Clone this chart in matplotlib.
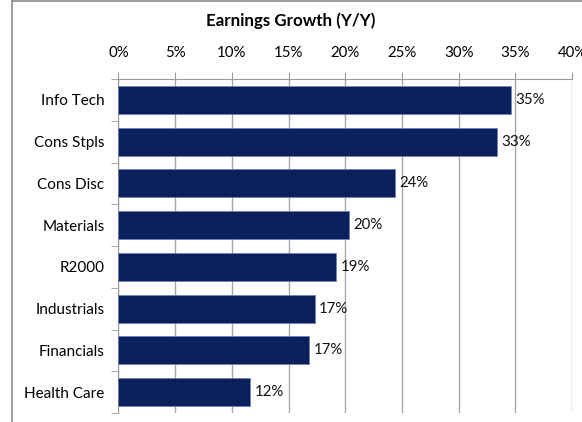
import numpy as np
import matplotlib.pyplot as plt
from matplotlib.lines import Line2D
from matplotlib.ticker import FixedLocator

# Sectors, top to bottom as shown
sectors = ["Info Tech", "Cons Stpls", "Cons Disc", "Materials",
           "R2000", "Industrials", "Financials", "Health Care"]
growth = [34.6, 33.4, 24.4, 20.3, 19.2, 17.3, 16.8, 11.6]  # Y/Y earnings growth, %
xticks = [0, 5, 10, 15, 20, 25, 30, 35, 40]

plt.rcParams['font.family'] = ['Lato', 'DejaVu Sans']

fig = plt.figure(figsize=(5.82, 4.22), dpi=100)
ax = fig.add_axes([0.2035, 0.0213, 0.7793, 0.7915])

y = np.arange(len(sectors))
ax.barh(y, growth, height=0.67, color='#0a1f5c', edgecolor='#6f83b5', linewidth=0.6, zorder=3)

for yi, v in zip(y, growth):
    ax.text(v + 0.4, yi, f"{v:.0f}%", va='center', ha='left', fontsize=10.8, color='#111111', zorder=4)

ax.set_ylim(len(sectors) - 0.5, -0.5)
ax.set_xlim(0, 40)
ax.set_yticks(y)
ax.set_yticklabels(sectors, fontsize=11)
ax.yaxis.set_minor_locator(FixedLocator(np.arange(-0.5, len(sectors), 1)))
ax.tick_params(axis='y', which='major', length=0, pad=10)
ax.tick_params(axis='y', which='minor', length=5, color='#9a9a9a', direction='out')

ax.xaxis.tick_top()
ax.set_xticks(xticks)
ax.set_xticklabels([f"{t}%" for t in xticks], fontsize=10.8)
ax.tick_params(axis='x', length=5, color='#9a9a9a', pad=9)
ax.grid(axis='x', color='#a6a6a6', linewidth=1, zorder=0)

for s in ['right', 'bottom']:
    ax.spines[s].set_visible(False)
for s in ['left', 'top']:
    ax.spines[s].set_color('#9a9a9a')

fig.text(0.5, 0.952, "Earnings Growth (Y/Y)", ha='center', va='center', fontsize=12.2, fontweight='bold')

# chart border: only the left and top edges are visible in the crop
fig.add_artist(Line2D([12 / 582, 12 / 582], [0, 1 - 1 / 422], color='#8c8c8c', linewidth=1.2))
fig.add_artist(Line2D([12 / 582, 1], [1 - 1 / 422, 1 - 1 / 422], color='#8c8c8c', linewidth=1.2))

fig.savefig("out.png", dpi=100)
